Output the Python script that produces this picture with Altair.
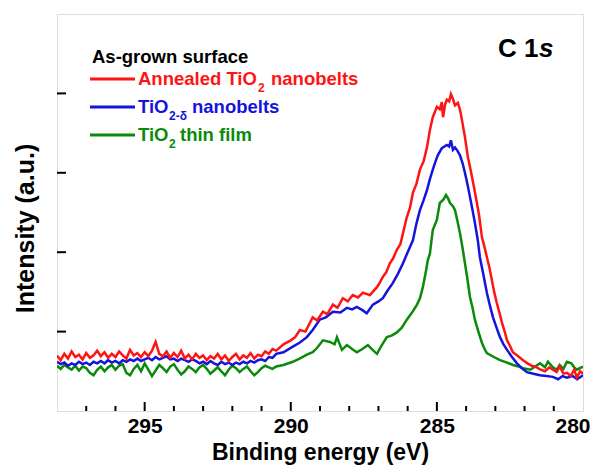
import altair as alt
import pandas as pd

# ---------------- data ----------------
series_names = ["Annealed TiO2 nanobelts", "TiO2-d nanobelts", "TiO2 thin film"]
series_colors = ["#ff1414", "#1414dc", "#0a8a0a"]

# flat background region (shared energy grid, 298 -> 290.5 eV)
base_E = [298.0, 297.875, 297.75, 297.625, 297.5, 297.375, 297.25, 297.125,
          297.0, 296.875, 296.75, 296.625, 296.5, 296.375, 296.25, 296.125,
          296.0, 295.875, 295.75, 295.625, 295.5, 295.375, 295.25, 295.125,
          295.0, 294.875, 294.75, 294.625, 294.5, 294.375, 294.25, 294.125,
          294.0, 293.875, 293.75, 293.625, 293.5, 293.375, 293.25, 293.125,
          293.0, 292.875, 292.75, 292.625, 292.5, 292.375, 292.25, 292.125,
          292.0, 291.875, 291.75, 291.625, 291.5, 291.375, 291.25, 291.125,
          291.0, 290.875, 290.75, 290.625, 290.5]
red_base = [0.70, 0.64, 0.72, 0.66, 0.75, 0.68, 0.71, 0.65,
            0.73, 0.67, 0.70, 0.76, 0.69, 0.74, 0.67, 0.72,
            0.68, 0.75, 0.70, 0.66, 0.77, 0.70, 0.73, 0.68,
            0.74, 0.69, 0.76, 0.87, 0.72, 0.69, 0.75, 0.67,
            0.73, 0.68, 0.76, 0.66, 0.71, 0.65, 0.72, 0.67,
            0.70, 0.64, 0.69, 0.66, 0.72, 0.65, 0.70, 0.63,
            0.68, 0.72, 0.65, 0.70, 0.67, 0.73, 0.66, 0.71,
            0.69, 0.75, 0.72, 0.78, 0.76]
blue_base = [0.62, 0.59, 0.61, 0.57, 0.60, 0.58, 0.62, 0.59,
             0.61, 0.58, 0.62, 0.60, 0.63, 0.60, 0.64, 0.61,
             0.63, 0.60, 0.64, 0.62, 0.65, 0.63, 0.66, 0.63,
             0.65, 0.67, 0.64, 0.68, 0.65, 0.67, 0.69, 0.65,
             0.66, 0.63, 0.66, 0.64, 0.62, 0.65, 0.63, 0.60,
             0.62, 0.59, 0.63, 0.60, 0.58, 0.62, 0.59, 0.61,
             0.58, 0.61, 0.59, 0.62, 0.60, 0.63, 0.61, 0.64,
             0.65, 0.63, 0.68, 0.67, 0.72]
green_base = [0.57, 0.53, 0.58, 0.55, 0.52, 0.57, 0.51, 0.56,
              0.54, 0.48, 0.45, 0.52, 0.56, 0.50, 0.55, 0.58,
              0.52, 0.57, 0.59, 0.48, 0.45, 0.53, 0.58, 0.50,
              0.60, 0.52, 0.44, 0.51, 0.58, 0.54, 0.49, 0.56,
              0.59, 0.52, 0.46, 0.50, 0.56, 0.53, 0.49, 0.55,
              0.58, 0.53, 0.47, 0.51, 0.55, 0.50, 0.45, 0.52,
              0.57, 0.54, 0.49, 0.53, 0.56, 0.50, 0.45, 0.49,
              0.54, 0.57, 0.55, 0.53, 0.56]

# peak region (290.25 -> 280 eV)
red_E = [290.25, 290.0, 289.85, 289.69, 289.5, 289.25, 289.1, 288.9, 288.75, 288.56,
         288.4, 288.22, 288.05, 287.88, 287.7, 287.53, 287.29, 287.15, 287.05, 286.95, 286.85, 286.73, 286.61,
         286.5, 286.37, 286.25, 286.16, 286.03, 285.92, 285.82, 285.7, 285.58, 285.45, 285.34, 285.24, 285.14,
         285.0, 284.9, 284.83, 284.79, 284.72, 284.66, 284.58, 284.52, 284.45, 284.38, 284.28, 284.2, 284.14,
         284.04, 283.94, 283.87, 283.8, 283.72, 283.63, 283.55, 283.46, 283.38, 283.29, 283.2, 283.12, 283.04,
         282.95, 282.86, 282.77, 282.68, 282.6, 282.5, 282.4, 282.25, 282.05, 281.9, 281.75, 281.58, 281.45,
         281.3, 281.15, 281.03, 280.9, 280.8, 280.67, 280.55, 280.42, 280.3, 280.21, 280.1, 280.0]
red_I = [0.84, 0.89, 0.93, 1.02, 1.00, 1.18, 1.14, 1.25, 1.22, 1.34,
         1.30, 1.42, 1.38, 1.46, 1.43, 1.49, 1.46, 1.52, 1.56, 1.62, 1.69, 1.75, 1.86,
         1.92, 2.03, 2.10, 2.24, 2.44, 2.56, 2.75, 2.86, 3.04, 3.15, 3.32, 3.54, 3.70,
         3.83, 3.80, 3.89, 3.70, 3.86, 3.92, 3.90, 3.99, 3.93, 3.85, 3.88, 3.78, 3.66,
         3.45, 3.20, 3.08, 2.95, 2.80, 2.62, 2.45, 2.19, 2.08, 1.94, 1.80, 1.65, 1.50,
         1.36, 1.24, 1.11, 1.00, 0.89, 0.82, 0.74, 0.70, 0.64, 0.60, 0.57, 0.55, 0.52,
         0.50, 0.55, 0.52, 0.49, 0.56, 0.47, 0.48, 0.44, 0.52, 0.42, 0.50, 0.47]

blue_E = [290.25, 289.93, 289.7, 289.45, 289.25, 289.01, 288.8, 288.56, 288.3, 288.08, 287.9,
          287.74, 287.55, 287.4, 287.19, 287.0, 286.85, 286.68, 286.51, 286.33, 286.16, 286.0, 285.82, 285.7,
          285.58, 285.46, 285.34, 285.24, 285.14, 285.05, 284.97, 284.83, 284.66, 284.58, 284.52, 284.45, 284.38,
          284.3, 284.21, 284.12, 284.04, 283.95, 283.87, 283.78, 283.7, 283.6, 283.53, 283.4, 283.29, 283.18,
          283.08, 282.95, 282.84, 282.72, 282.6, 282.43, 282.26, 282.1, 281.92, 281.7, 281.47, 281.25, 281.03,
          280.85, 280.7, 280.55, 280.35, 280.2, 280.0]
blue_I = [0.74, 0.81, 0.86, 0.93, 1.02, 1.15, 1.18, 1.25, 1.24, 1.30, 1.28,
          1.31, 1.27, 1.23, 1.34, 1.38, 1.42, 1.52, 1.61, 1.73, 1.86, 2.00, 2.15, 2.36,
          2.53, 2.65, 2.78, 2.92, 3.04, 3.14, 3.22, 3.31, 3.35, 3.33, 3.41, 3.29, 3.32,
          3.28, 3.22, 3.12, 3.00, 2.85, 2.70, 2.53, 2.37, 2.15, 1.94, 1.70, 1.49, 1.32,
          1.18, 1.04, 0.93, 0.84, 0.77, 0.68, 0.60, 0.54, 0.49, 0.47, 0.45, 0.44, 0.43,
          0.40, 0.44, 0.42, 0.44, 0.40, 0.45]

green_E = [290.25, 289.93, 289.7, 289.45, 289.25, 289.11, 288.9, 288.66, 288.5, 288.42, 288.25,
           288.08, 287.9, 287.74, 287.55, 287.36, 287.2, 287.05, 286.9, 286.71, 286.55, 286.37, 286.2, 286.03,
           285.85, 285.68, 285.58, 285.48, 285.38, 285.31, 285.24, 285.14, 285.0, 284.9, 284.78, 284.69, 284.62,
           284.55, 284.45, 284.38, 284.3, 284.21, 284.12, 284.04, 283.95, 283.87, 283.78, 283.7, 283.58, 283.46,
           283.38, 283.29, 283.05, 282.84, 282.6, 282.4, 282.2, 282.05, 281.8, 281.6, 281.47, 281.3, 281.2,
           281.03, 280.9, 280.8, 280.67, 280.55, 280.4, 280.3, 280.21, 280.0]
green_I = [0.58, 0.62, 0.66, 0.71, 0.74, 0.79, 0.89, 0.87, 0.84, 0.93, 0.77,
           0.83, 0.78, 0.74, 0.78, 0.83, 0.77, 0.72, 0.82, 0.93, 0.95, 0.99, 1.05, 1.15,
           1.24, 1.34, 1.42, 1.56, 1.75, 1.90, 1.98, 2.28, 2.41, 2.62, 2.66, 2.72, 2.68,
           2.62, 2.58, 2.53, 2.40, 2.24, 2.05, 1.86, 1.65, 1.44, 1.30, 1.15, 1.00, 0.86,
           0.79, 0.73, 0.68, 0.64, 0.61, 0.58, 0.56, 0.54, 0.52, 0.57, 0.60, 0.55, 0.62,
           0.55, 0.52, 0.58, 0.53, 0.62, 0.60, 0.55, 0.52, 0.56]

x_tick_labels = [295, 290, 285, 280]
x_major_ticks = [295, 290, 285]
x_minor_ticks = [297, 296, 294, 293, 292, 291, 289, 288, 287, 286, 284, 283, 282, 281]
y_ticks = [1, 2, 3, 4]

# ---------------- chart ----------------
W, H = 526, 397
FONT = "Liberation Sans"

xscale = alt.Scale(domain=[280, 298], reverse=True, nice=False, zero=False)
yscale = alt.Scale(domain=[0, 5], nice=False, zero=False)

xaxis = alt.Axis(values=x_tick_labels, format="d", title="Binding energy (eV)", ticks=False, tickSize=0,
                 domain=False, grid=False, labelFont=FONT, labelFontSize=21, labelFontWeight="bold",
                 labelColor="black", labelBaseline="alphabetic", labelPadding=21, labelFlush=True,
                 labelFlushOffset=7,
                 titleFont=FONT, titleFontSize=23, titleFontWeight="bold", titleColor="black",
                 titleX=W / 2, titleY=48, titleAlign="center", titleBaseline="alphabetic")
yaxis = alt.Axis(labels=False, ticks=False, tickSize=0, domain=False, grid=False,
                 title="Intensity (a.u.)", titleFont=FONT, titleFontSize=25, titleFontWeight="bold",
                 titleColor="black", titleX=-32, titleY=214, titleAngle=270, titleAlign="center",
                 titleBaseline="middle")


def series_layer(E, I, color):
    d = pd.DataFrame({"energy": base_E + E, "intensity": I})
    return alt.Chart(d).mark_line(strokeWidth=2.5, clip=True, color=color).encode(
        x=alt.X("energy:Q", scale=xscale, axis=xaxis),
        y=alt.Y("intensity:Q", scale=yscale, axis=yaxis),
    )


layers = [
    series_layer(green_E, green_base + green_I, series_colors[2]),
    series_layer(blue_E, blue_base + blue_I, series_colors[1]),
    series_layer(red_E, red_base + red_I, series_colors[0]),
]

# inward ticks
layers.append(alt.Chart(pd.DataFrame({"energy": x_major_ticks})).mark_rule(color="black", strokeWidth=2).encode(
    x=alt.X("energy:Q", scale=xscale, axis=xaxis), y=alt.value(H), y2=alt.value(H - 9)))
layers.append(alt.Chart(pd.DataFrame({"energy": x_minor_ticks})).mark_rule(color="black", strokeWidth=2).encode(
    x=alt.X("energy:Q", scale=xscale, axis=xaxis), y=alt.value(H), y2=alt.value(H - 5)))
layers.append(alt.Chart(pd.DataFrame({"intensity": y_ticks})).mark_rule(color="black", strokeWidth=2).encode(
    y=alt.Y("intensity:Q", scale=yscale, axis=yaxis), x=alt.value(0), x2=alt.value(9)))

one = pd.DataFrame({"k": [0]})


def txt(s, x, y, color="black", size=18.5, style="normal"):
    return alt.Chart(one).mark_text(text=s, font=FONT, fontSize=size, fontWeight="bold", fontStyle=style,
                                    color=color, align="left", baseline="alphabetic").encode(
        x=alt.value(x), y=alt.value(y))


def legline(y, color):
    return alt.Chart(one).mark_rule(color=color, strokeWidth=3).encode(
        x=alt.value(33), x2=alt.value(78), y=alt.value(y))


layers += [
    txt("As-grown surface", 35, 49),
    legline(65, series_colors[0]),
    txt("Annealed TiO", 81, 71, series_colors[0]),
    txt("2", 201, 78, series_colors[0], 12),
    txt("nanobelts", 214, 71, series_colors[0]),
    legline(93, series_colors[1]),
    txt("TiO", 81, 99, series_colors[1]),
    txt("2-\u03b4", 112, 106, series_colors[1], 12),
    txt("nanobelts", 135, 99, series_colors[1]),
    legline(121, series_colors[2]),
    txt("TiO", 81, 127, series_colors[2]),
    txt("2", 112, 134, series_colors[2], 12),
    txt("thin film", 123, 127, series_colors[2]),
    txt("C 1", 441, 43, "black", 26),
    txt("s", 482, 43, "black", 26, "italic"),
]

chart = alt.layer(*layers).properties(
    width=W, height=H,
    autosize=alt.AutoSizeParams(type="none"),
    padding={"left": 49, "top": 6, "right": 9, "bottom": 54},
).configure_view(stroke="black", strokeWidth=3).configure(background="white")

chart.save("out.html", embed_options={"renderer": "svg", "actions": False})
